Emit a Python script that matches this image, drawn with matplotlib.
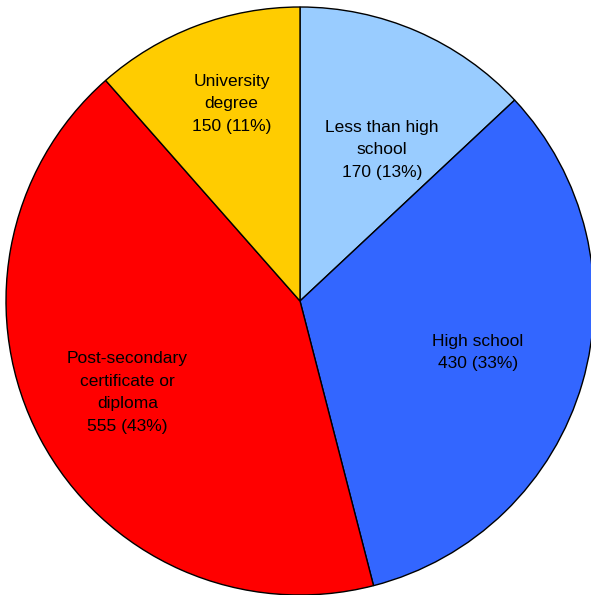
import matplotlib
matplotlib.use("Agg")
import matplotlib.pyplot as plt
import numpy as np

categories = ["Less than high\nschool", "High school", "Post-secondary\ncertificate or\ndiploma", "University\ndegree"]
values = [170, 430, 555, 150]
colors = ["#99CCFF", "#3366FF", "#FF0000", "#FFCC00"]
label_dist = [0.585, 0.63, 0.665, 0.71]
label_ang_shift = [-5.0, 0.0, 0.0, -1.5]

plt.rcParams['font.family'] = ['Liberation Sans', 'DejaVu Sans']

W, H = 591, 595
fig = plt.figure(figsize=(W / 100, H / 100), dpi=100)
cx, cy, r = 300, 301, 294
ax = fig.add_axes([(cx - r) / W, (H - cy - r) / H, 2 * r / W, 2 * r / H])

wedges, _ = ax.pie(values, colors=colors, startangle=90, counterclock=False,
                   radius=1, wedgeprops=dict(edgecolor="black", linewidth=1.0))
total = sum(values)
for w, cat, v, d, s in zip(wedges, categories, values, label_dist, label_ang_shift):
    ang = np.deg2rad((w.theta1 + w.theta2) / 2 + s)
    pct = round(v / total * 100)
    ax.text(d * np.cos(ang), d * np.sin(ang), f"{cat}\n{v} ({pct}%)",
            ha="center", va="center", fontsize=12.5, linespacing=1.62)

ax.set_xlim(-1, 1)
ax.set_ylim(-1, 1)
ax.set_aspect("equal")
ax.axis("off")
fig.savefig("out.png", dpi=100)
